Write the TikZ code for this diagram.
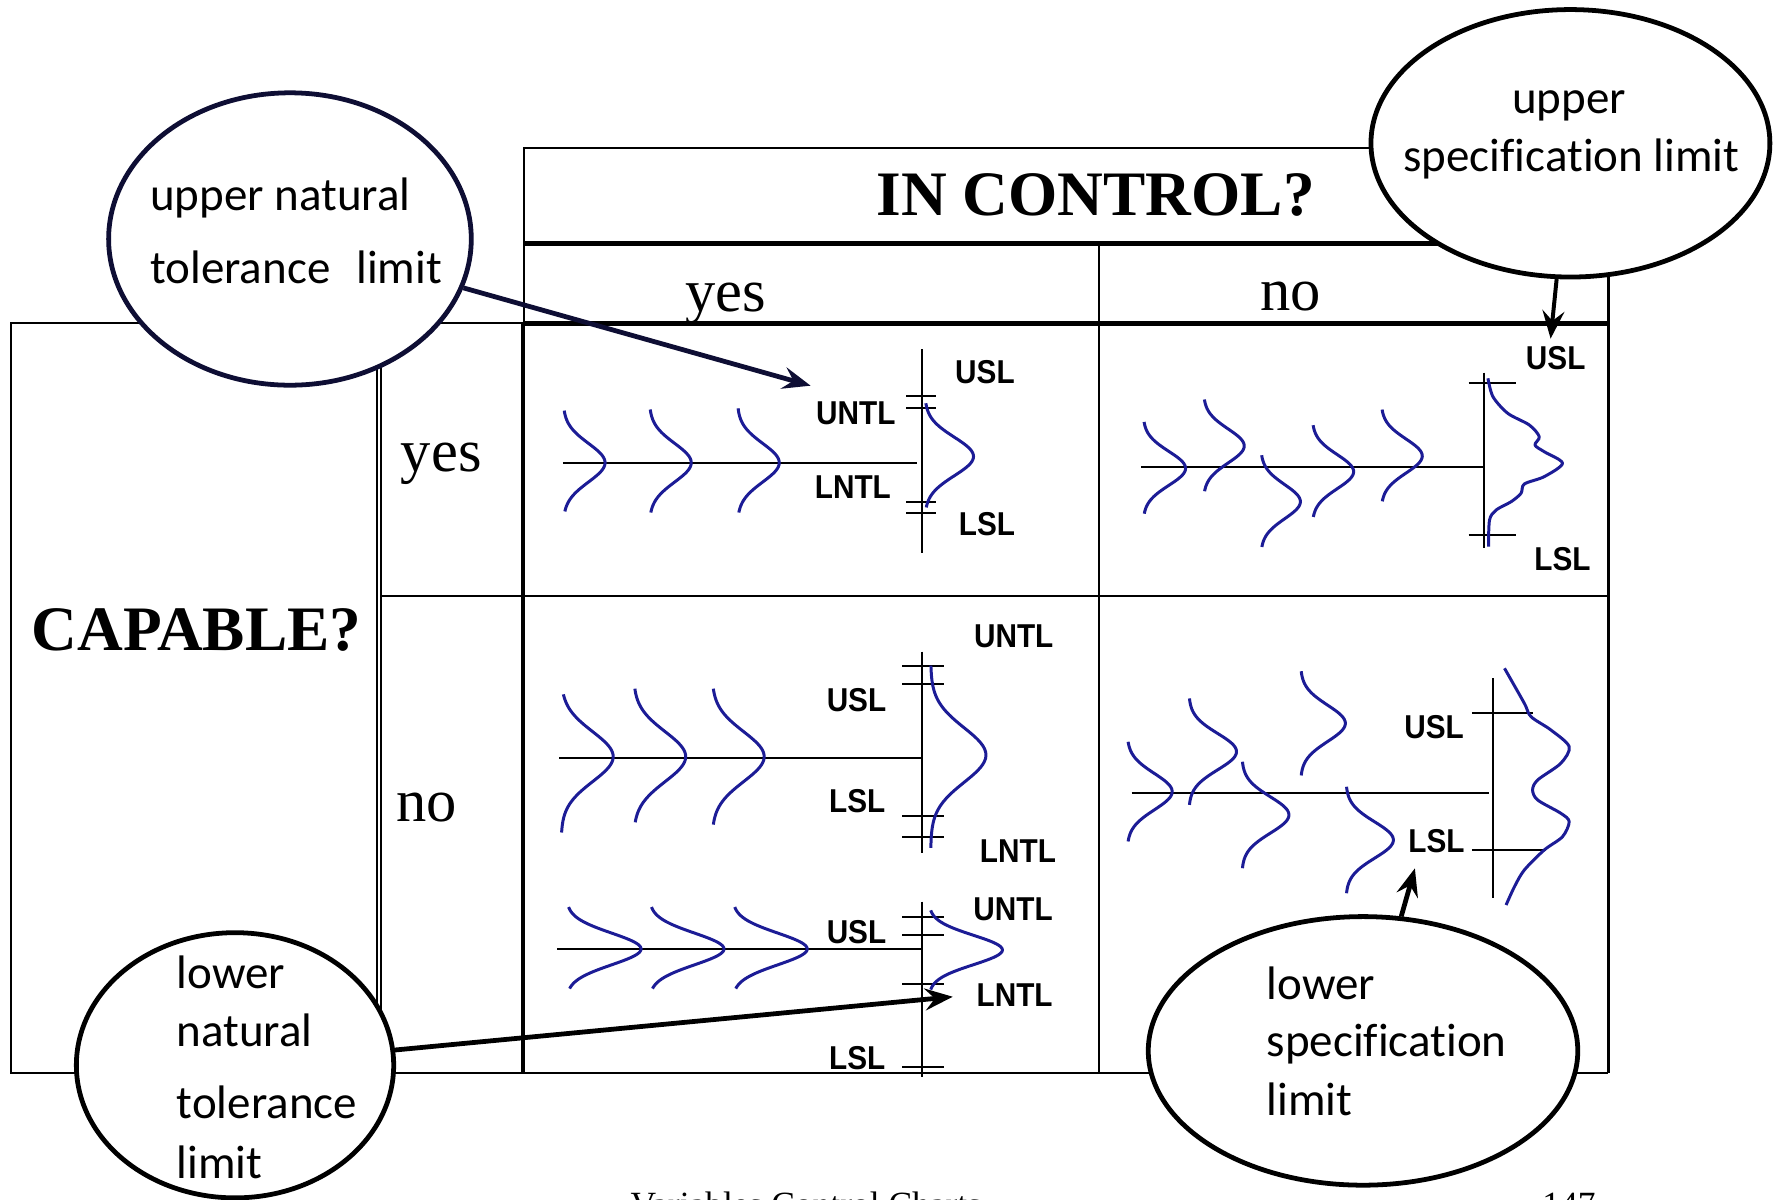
\documentclass[tikz,border=0pt]{standalone}
\usepackage{fontspec}
\usepackage{graphicx}
\setmainfont{Liberation Serif}
\newfontfamily\calib[Ligatures=NoCommon]{Carlito}
\newfontfamily\lsans{Liberation Sans}
\usetikzlibrary{shapes.geometric,arrows.meta}
\definecolor{curveblue}{RGB}{28,28,150}
\definecolor{navyline}{RGB}{14,14,52}
\newcommand{\lab}[1]{\scalebox{0.9}[1]{#1}}
% x0, yc, amplitude, sigma, dmin, dmax
\newcommand{\hbell}[6]{\draw[bellc] plot[domain=#5:#6, samples=60, smooth] ({#1+#3*exp(-((\x)*(\x))/(2*#4*#4))},{#2+\x});}
\tikzset{
  tline/.style={line width=0.5pt},
  Tline/.style={line width=1.1pt},
  bellc/.style={draw=curveblue, line width=0.75pt, line join=round},
  axisc/.style={line width=0.5pt},
  callout/.style={ellipse, draw, fill=white, line width=1.2pt, inner sep=0pt},
  etext/.style={anchor=base west, inner sep=0pt, font=\calib\fontsize{11.8}{14}\selectfont},
  ctext/.style={anchor=base, inner sep=0pt, font=\calib\fontsize{11.8}{14}\selectfont},
  lbl/.style={inner sep=0pt, font=\lsans\bfseries\fontsize{8.3}{10}\selectfont},
  titleb/.style={anchor=base, inner sep=0pt, font=\bfseries\fontsize{15.9}{18}\selectfont},
  titler/.style={anchor=base, inner sep=0pt, font=\fontsize{15.2}{18}\selectfont},
  ptr/.style={-{Stealth[length=7pt,width=5.5pt,inset=2.5pt]}, line width=1.2pt},
}
\begin{document}
\begin{tikzpicture}[x=0.01cm,y=-0.01cm]
\useasboundingbox (0,0) rectangle (1568,1059);
\clip (0,0) rectangle (1568,1059);
% ---------- table ----------
\draw[tline] (463,285.5) -- (463,131) -- (1420,131);
\draw[Tline] (463,214.8) -- (1420,214.8);
\draw[Tline] (461.5,285.5) -- (1420,285.5);
\draw[Tline] (461.5,285.5) -- (461.5,947);
\draw[tline] (970,214.8) -- (970,947);
\draw[line width=0.7pt] (1420,131) -- (1420,947);
\draw[tline] (336,285.5) -- (461.5,285.5);
\draw[tline] (336,285.5) -- (336,947);
\draw[tline] (336,526) -- (1420,526);
\draw[tline] (9.5,285.5) rectangle (333,947);
\draw[tline] (9.5,947) -- (1420,947);
% headings
\node[titleb] (inctl) at (967.5,190) {IN CONTROL?};
\node[titler] (hyes) at (640.6,274.8) {yes};
\node[titler] (hno) at (1139.7,274) {no};
\node[titler] (ryes) at (389.6,416) {yes};
\node[titler] (rno) at (376.8,725.7) {no};
\node[titleb] (capable) at (173.4,574.7) {CAPABLE?};
% ---------- cell 1: in control, capable ----------
\draw[axisc] (497,408.5) -- (809.6,408.5);
\draw[axisc] (813.7,308.4) -- (813.7,488.5);
\foreach \yy in {349.6,360.5,442.9,453.2} \draw[axisc] (800,\yy) -- (826.6,\yy);
\hbell{497.2}{408.5}{37}{17}{-46}{43}
\hbell{573.3}{408.5}{37}{17}{-47}{44}
\hbell{651}{408.5}{37}{17}{-48}{44}
\hbell{816.5}{403}{43}{17}{-47}{45}
\node[lbl] (a1) at (869.6,328.4) {\lab{USL}};
\node[lbl] (a2) at (755.6,364.6) {\lab{UNTL}};
\node[lbl] (a3) at (753,430.4) {\lab{LNTL}};
\node[lbl] (a4) at (871.4,462.7) {\lab{LSL}};
% ---------- cell 2: not in control, capable ----------
\draw[axisc] (1007.8,412.6) -- (1310.2,412.6);
\draw[axisc] (1310.2,329) -- (1310.2,484);
\foreach \yy in {338.4,472.3} \draw[axisc] (1296.6,\yy) -- (1338.6,\yy);
\hbell{1009.2}{413.5}{37.5}{15}{-41}{40}
\hbell{1062.5}{393.7}{36}{15}{-41}{40}
\hbell{1113.1}{442.9}{35}{15}{-41}{40}
\hbell{1158.5}{416.4}{36.6}{15}{-41}{40}
\hbell{1219.4}{402.6}{36.3}{15}{-41}{40}
\draw[bellc] plot[smooth, tension=0.5] coordinates {(1313.7,334) (1318.1,350.2) (1331.2,364.9) (1350.2,375.2) (1359,385.5) (1355.2,392.9) (1363.4,398.8) (1379.5,409) (1363.4,420.8) (1345.8,427.3) (1342.9,435.5) (1334.2,442.9) (1321,450.2) (1315.1,459) (1314.2,482.6)};
\node[lbl] (b1) at (1373.5,316.3) {\lab{USL}};
\node[lbl] (b2) at (1379.5,493.5) {\lab{LSL}};
% ---------- cell 3: in control, not capable ----------
\draw[axisc] (493.8,668.9) -- (813.8,668.9);
\draw[axisc] (813.8,575.3) -- (813.8,753.4);
\foreach \yy in {587.7,604.2,720.4,738.6} \draw[axisc] (796.4,\yy) -- (833.6,\yy);
\hbell{495.4}{668}{46}{22}{-55}{67}
\hbell{559.4}{668}{46}{22}{-60}{58}
\hbell{628.7}{668}{46}{22}{-60}{60}
\hbell{821.7}{666.6}{48.8}{24}{-79}{82}
\node[lbl] (c1) at (895,561.4) {\lab{UNTL}};
\node[lbl] (c2) at (756.2,618) {\lab{USL}};
\node[lbl] (c3) at (756.9,707.7) {\lab{LSL}};
\node[lbl] (c4) at (898.7,751) {\lab{LNTL}};
\draw[axisc] (492.2,837.8) -- (813.8,837.8);
\draw[axisc] (813.8,796) -- (813.8,950.5);
\foreach \yy in {809.3,825.5,868.7,941.7} \draw[axisc] (796.4,\yy) -- (833.6,\yy);
\hbell{500}{837.8}{66}{14}{-37}{35}
\hbell{573.2}{837.8}{66}{14}{-37}{35}
\hbell{646.7}{837.8}{66}{14}{-37}{35}
\hbell{820}{838.7}{65}{13}{-35}{35}
\node[lbl] (d1) at (894.5,802.6) {\lab{UNTL}};
\node[lbl] (d2) at (756.2,823.2) {\lab{USL}};
\node[lbl] (d3) at (895.8,878.3) {\lab{LNTL}};
\node[lbl] (d4) at (756.9,934.3) {\lab{LSL}};
% ---------- cell 4: not in control, not capable ----------
\draw[axisc] (999,700.4) -- (1314.2,700.4);
\draw[axisc] (1318.1,598.8) -- (1318.1,793.1);
\draw[axisc] (1299.6,629.2) -- (1353.1,629.2);
\draw[axisc] (1299.6,750.4) -- (1364.9,750.4);
\hbell{995.1}{698.9}{39.8}{16}{-44}{44}
\hbell{1049.6}{663.6}{42.1}{16}{-47}{47}
\hbell{1096.4}{719.5}{41.6}{16}{-47}{47}
\hbell{1148.2}{638.6}{39.6}{16}{-46}{46}
\hbell{1188.3}{741.6}{41.9}{16}{-47}{47}
\draw[bellc] plot[smooth, tension=0.5] coordinates {(1328.3,590) (1345.8,620.9) (1351.7,632.7) (1369.3,644.5) (1385.4,659.2) (1378,673.9) (1357.6,688.6) (1353.1,697.4) (1357.6,706.3) (1378,718) (1385.4,725.4) (1379.5,738.7) (1363.4,750.4) (1345.8,768.1) (1337.1,782.8) (1329.7,799)};
\node[lbl] (e1l) at (1266.1,642.3) {\lab{USL}};
\node[lbl] (e2l) at (1268.2,743) {\lab{LSL}};
% ---------- callouts ----------
\node[callout, draw=navyline, minimum width=3.2cm, minimum height=2.58cm] (untl) at (256,211) {};
\node[etext] (untl1) at (132,185.5) {upper natural};
\node[etext] (untl2) at (132,250) {tolerance\hspace{0.55em}limit};
\node[callout, minimum width=3.52cm, minimum height=2.36cm] (usl) at (1386.5,126.5) {};
\node[ctext] (usl1) at (1385.3,100) {upper};
\node[ctext] (usl2) at (1387.5,151.6) {specification limit};
\node[callout, minimum width=2.8cm, minimum height=2.34cm] (lntl) at (207.5,940.5) {};
\node[etext] (lntl1) at (155.4,872.5) {lower};
\node[etext] (lntl2) at (155.4,924) {natural};
\node[etext] (lntl3) at (155.4,987.3) {tolerance};
\node[etext] (lntl4) at (155.4,1040.3) {limit};
\node[callout, minimum width=3.79cm, minimum height=2.37cm] (lsl) at (1203.4,927.8) {};
\node[etext] (lsl1) at (1117.7,882.2) {lower};
\node[etext] (lsl2) at (1117.7,932.9) {specification};
\node[etext] (lsl3) at (1117.7,984.4) {limit};
% ---------- pointers ----------
\coordinate (t1) at (715.7,340.5);
\coordinate (t2) at (1369,299);
\coordinate (t3) at (841.2,880);
\coordinate (t4) at (1249.2,766.6);
\draw[ptr, draw=navyline, fill=navyline] (untl) -- (t1);
\draw[ptr, line width=1pt] (usl) -- (t2);
\draw[ptr] (lntl) -- (t3);
\draw[ptr] (lsl) -- (t4);
% ---------- footer (cut off at the lower edge, as in the reference) ----------
\node[anchor=base west, inner sep=0pt, font=\fontsize{8.9}{10}\selectfont] (foot1) at (556,1073.6) {Variables Control Charts};
\node[anchor=base west, inner sep=0pt, font=\fontsize{8.9}{10}\selectfont] (foot2) at (1361,1073.6) {147};
\end{tikzpicture}
\end{document}
